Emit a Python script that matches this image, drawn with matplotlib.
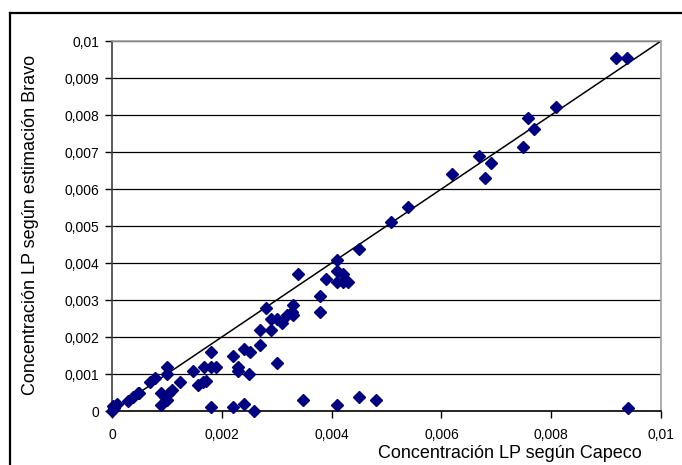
import matplotlib
matplotlib.use('Agg')
import matplotlib.pyplot as plt
from matplotlib.lines import Line2D
from matplotlib.ticker import FuncFormatter, MultipleLocator

# Capeco (x) vs Bravo estimate (y)
capeco = [0.0, 0.00002, 0.0001, 0.00004, 0.0003, 0.00039, 0.00048, 0.0005,
          0.0007, 0.00078, 0.001, 0.001, 0.0009, 0.0009, 0.001, 0.00097,
          0.00103, 0.00109, 0.00124, 0.00148, 0.00157, 0.00166, 0.00171,
          0.00168, 0.0018, 0.00189, 0.0018, 0.0018, 0.0022, 0.0022,
          0.00229, 0.00229, 0.0024, 0.00251, 0.0025, 0.0024, 0.00259,
          0.0027, 0.0027, 0.0028, 0.0029, 0.0029, 0.00301, 0.003, 0.00309,
          0.00318, 0.00327, 0.00329, 0.00329, 0.00338, 0.00348, 0.00379,
          0.00379, 0.00389, 0.00409, 0.00409, 0.0042, 0.00409, 0.0042,
          0.0043, 0.0041, 0.0045, 0.0045, 0.00481, 0.00508, 0.00539,
          0.00619, 0.00669, 0.0068, 0.0069, 0.00748, 0.00758, 0.00769,
          0.00809, 0.00918, 0.00938, 0.00939]
bravo = [0.0, 0.00013, 0.0002, 0.00007, 0.00028, 0.00039, 0.00048, 0.00048,
         0.00078, 0.00088, 0.00118, 0.00099, 0.00048, 0.00016, 0.0003,
         0.00039, 0.00048, 0.00058, 0.00079, 0.00108, 0.0007, 0.00079,
         0.00081, 0.00118, 0.00118, 0.00118, 0.0016, 0.00012, 0.00149,
         0.00012, 0.0012, 0.00108, 0.00167, 0.0016, 0.00099, 0.00018, 0.0,
         0.00178, 0.00219, 0.00279, 0.0025, 0.00219, 0.0013, 0.0025,
         0.00237, 0.0026, 0.00268, 0.00286, 0.0026, 0.00369, 0.0003,
         0.00311, 0.00268, 0.00358, 0.00408, 0.00379, 0.00369, 0.00348,
         0.00348, 0.00348, 0.00016, 0.00438, 0.00039, 0.0003, 0.0051,
         0.00552, 0.0064, 0.00689, 0.00629, 0.00671, 0.00713, 0.00791,
         0.00761, 0.00821, 0.00953, 0.00953, 0.00009]
diag = [0.0, 0.01]

plt.rcParams['font.family'] = ['Liberation Sans', 'DejaVu Sans']

fig = plt.figure(figsize=(6.82, 4.65), dpi=100)
ax = fig.add_axes([112 / 682, 1 - 411 / 465, 549 / 682, 370 / 465])

for y in [i * 0.001 for i in range(1, 11)]:
    ax.axhline(y, color='black', lw=0.9, zorder=1)

ax.plot(diag, diag, color='black', lw=1.1, zorder=2)
ax.plot(capeco, bravo, ls='none', marker='D', ms=6, color='#000080',
        mec='#000080', zorder=3, clip_on=False)

ax.set_xlim(0, 0.01)
ax.set_ylim(0, 0.01)
ax.xaxis.set_major_locator(MultipleLocator(0.002))
ax.yaxis.set_major_locator(MultipleLocator(0.001))


def fmt(v, pos):
    if abs(v) < 1e-12:
        return '0'
    return ('%g' % round(v, 4)).replace('.', ',')


ax.xaxis.set_major_formatter(FuncFormatter(fmt))
ax.yaxis.set_major_formatter(FuncFormatter(fmt))
ax.tick_params(direction='out', length=5, width=1, labelsize=10,
               colors='black', pad=4)
ax.tick_params(axis='x', pad=7)

for side in ['top', 'right']:
    ax.spines[side].set_color('#a0a0a0')
    ax.spines[side].set_linewidth(1.2)
ax.spines['left'].set_color('#404040')
ax.spines['left'].set_linewidth(1.2)
ax.spines['bottom'].set_color('black')
ax.spines['bottom'].set_linewidth(1.2)

ax.set_xlabel('Concentración LP según Capeco', fontsize=13)
ax.xaxis.set_label_coords(0.725, -0.114)
ax.xaxis.label.set_va('center')
ax.set_ylabel('Concentración LP según estimación Bravo', fontsize=13)
ax.yaxis.set_label_coords(-0.149, 0.503)
ax.yaxis.label.set_va('center')

# outer chart frame (partly cut off by the image edge)
fig.add_artist(Line2D([10 / 682, 10 / 682], [0, 1 - 13 / 465],
                      color='black', lw=1.6))
fig.add_artist(Line2D([10 / 682, 1], [1 - 13 / 465, 1 - 13 / 465],
                      color='black', lw=1.6))

fig.savefig('out.png', dpi=100)
